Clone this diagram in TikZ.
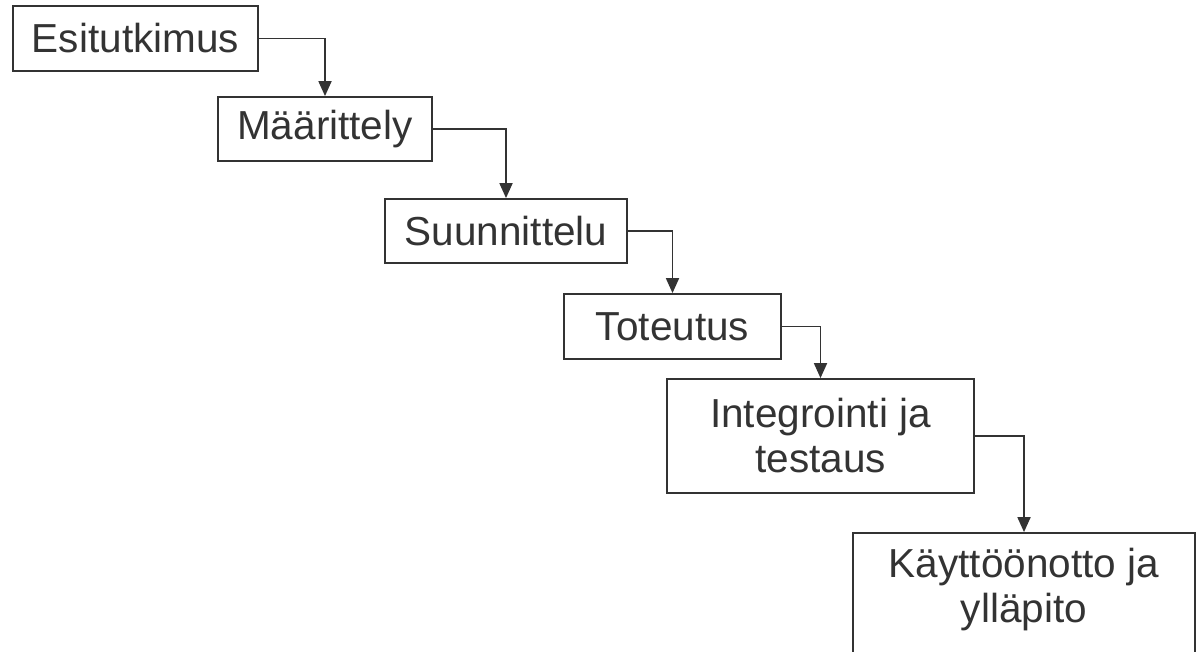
\documentclass[tikz,border=0pt]{standalone}
\usepackage{fontspec}
\setmainfont{Liberation Sans}
\usetikzlibrary{arrows.meta}
\definecolor{ink}{HTML}{333333}
\tikzset{
  phase/.style={draw=ink, line width=1.8pt, inner sep=0pt, text=ink,
    font=\fontsize{40.5}{45}\selectfont, align=center},
  flow/.style={draw=ink, line width=1.8pt,
    -{Triangle[width=13pt,length=15pt]}},
}
\begin{document}
\begin{tikzpicture}[x=1pt,y=-1pt]
  \useasboundingbox (0,0) rectangle (1198,651);
  \clip (0,0) rectangle (1198,651);

  % waterfall phases
  \node[phase, minimum width=245pt, minimum height=65pt] (b1) at (135.5,38.5) {Esitutkimus};
  \node[phase, minimum width=214pt, minimum height=64pt] (b2) at (325,129) {Määrittely};
  \node[phase, minimum width=242pt, minimum height=64pt] (b3) at (506,231) {Suunnittelu};
  \node[phase, minimum width=217pt, minimum height=65pt] (b4) at (672.5,326.5) {Toteutus};
  \node[phase, minimum width=307pt, minimum height=114pt] (b5) at (820.5,436) {Integrointi ja\\testaus};
  \node[phase, minimum width=342pt, minimum height=170pt] (b6) at (1024,618) {};
  \node[phase, draw=none] (t6) at (1024,590) {Käyttöönotto ja\\ylläpito};

  % step-down connectors
  \draw[flow] (b1.east) -| (b2.north);
  \draw[flow] (b2.east) -| (b3.north);
  \draw[flow] (b3.east) -| (b4.north);
  \draw[flow] (b4.east) -| (b5.north);
  \draw[flow] (b5.east) -| (b6.north);
\end{tikzpicture}
\end{document}
